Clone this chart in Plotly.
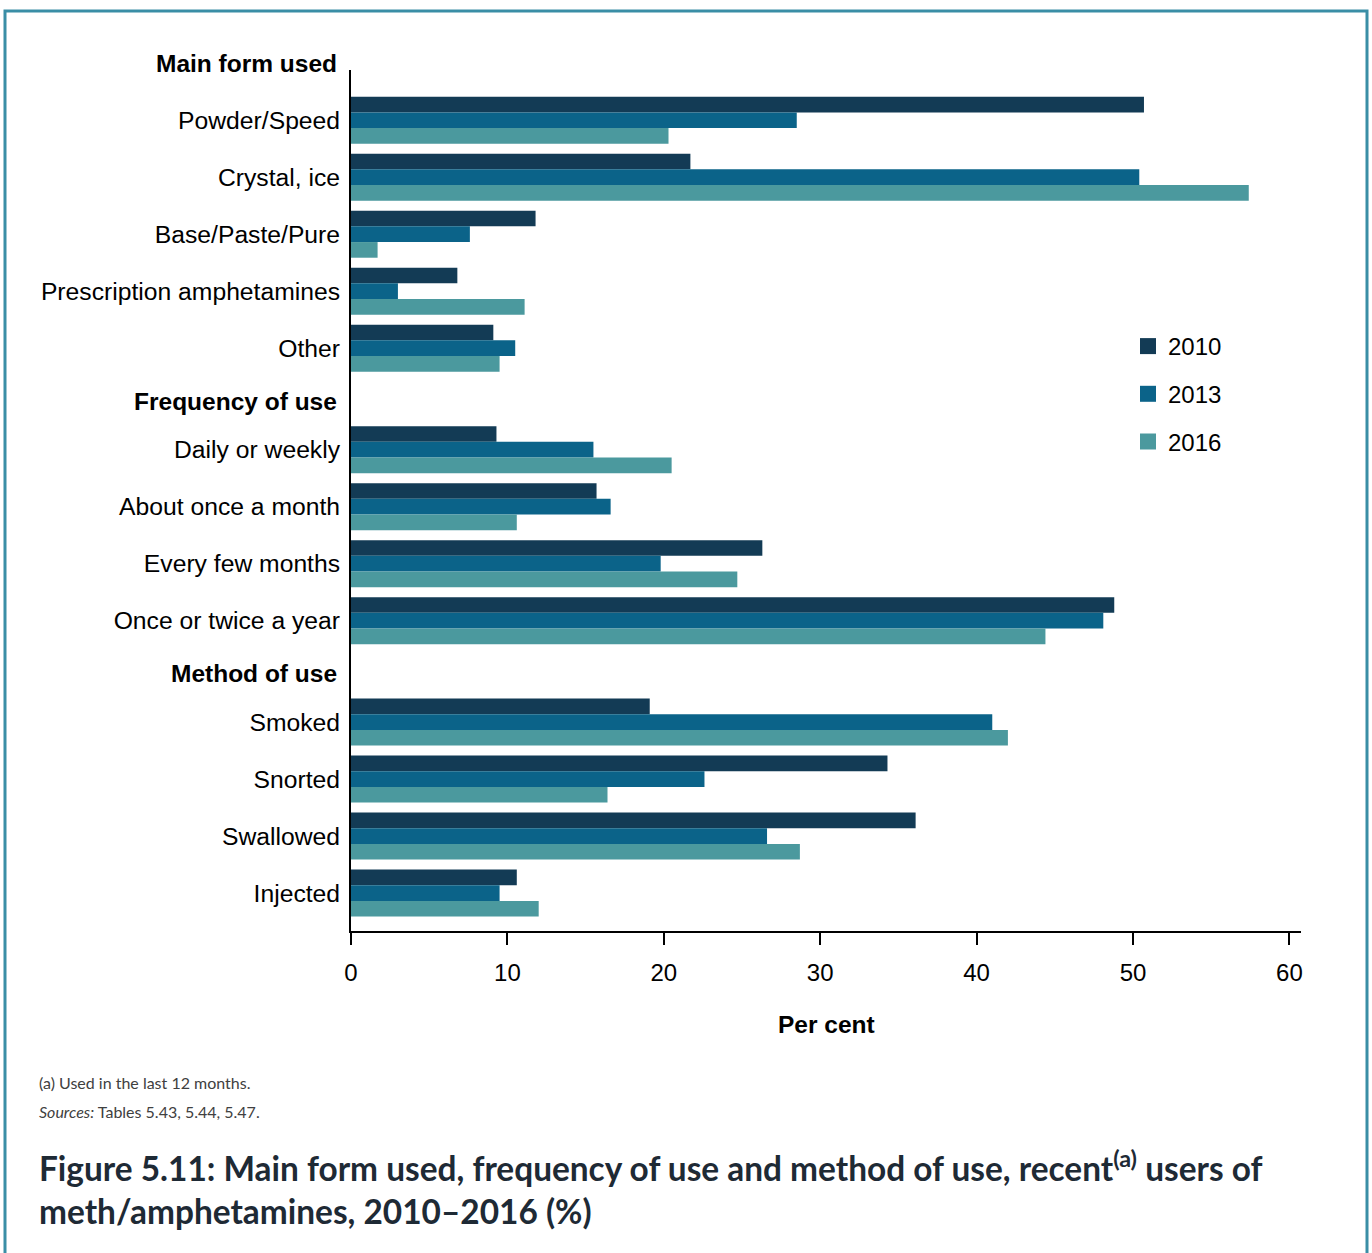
import plotly.graph_objects as go

# ---- data ----
categories = [
    "Powder/Speed", "Crystal, ice", "Base/Paste/Pure", "Prescription amphetamines", "Other",
    "Daily or weekly", "About once a month", "Every few months", "Once or twice a year",
    "Smoked", "Snorted", "Swallowed", "Injected",
]
group_headers = ["Main form used", "Frequency of use", "Method of use"]
group_sizes = [5, 4, 4]
years = ["2010", "2013", "2016"]
v2010 = [50.7, 21.7, 11.8, 6.8, 9.1, 9.3, 15.7, 26.3, 48.8, 19.1, 34.3, 36.1, 10.6]
v2013 = [28.5, 50.4, 7.6, 3.0, 10.5, 15.5, 16.6, 19.8, 48.1, 41.0, 22.6, 26.6, 9.5]
v2016 = [20.3, 57.4, 1.7, 11.1, 9.5, 20.5, 10.6, 24.7, 44.4, 42.0, 16.4, 28.7, 12.0]
x_ticks = [0, 10, 20, 30, 40, 50, 60]

colors = ["#133b55", "#0b6389", "#4b999e"]
values = [v2010, v2013, v2016]

# ---- layout geometry (body margin removed via post_script) ----
W, H = 1372, 1253
L, R, T, B = 351, 1301, 70, 931
GROUP_GAP = 0.78

pos = []
header_pos = []
i = 0
for g, n in enumerate(group_sizes):
    start = i + GROUP_GAP * g
    header_pos.append(start - (1.0 if g == 0 else 0.85))
    for k in range(n):
        pos.append(i + GROUP_GAP * g)
        i += 1

y_lo, y_hi = 14.225, -0.881  # reversed axis


def yfrac(u):
    return (y_lo - u) / (y_lo - y_hi)


def px_x(px):
    return (px - L) / (R - L)


def px_y(py):
    return (B - py) / (B - T)


LABEL_FONT = "Liberation Sans, Arial"

fig = go.Figure()
for yr, vals, c in zip(years, values, colors):
    fig.add_trace(go.Bar(
        x=vals, y=pos, orientation="h", name=yr, marker=dict(color=c, line=dict(width=0)),
        showlegend=False,
    ))
for g, (yr, c) in enumerate(zip(years, colors)):
    fig.add_trace(go.Scatter(
        x=[None], y=[None], mode="markers", name=yr, legendgroup=yr,
        marker=dict(symbol="square", size=16, color=c),
    ))

annotations = []
for h, u in zip(group_headers, header_pos):
    annotations.append(dict(
        text="<b>%s</b>" % h, xref="paper", yref="paper", x=0, y=yfrac(u),
        xanchor="right", yanchor="middle", xshift=-12, showarrow=False,
        font=dict(family=LABEL_FONT, size=24.5, color="#000000"),
    ))
annotations.append(dict(
    text="<b>Per cent</b>", xref="paper", yref="paper", x=0.5, y=px_y(1024),
    xanchor="center", yanchor="middle", showarrow=False,
    font=dict(family=LABEL_FONT, size=24.5, color="#000000"),
))
annotations.append(dict(
    text="(a) Used in the last 12 months.", xref="paper", yref="paper", x=px_x(37), y=px_y(1082),
    xanchor="left", yanchor="middle", showarrow=False,
    font=dict(family="Lato", size=16, color="#404040"),
))
annotations.append(dict(
    text="<i>Sources:</i> Tables 5.43, 5.44, 5.47.", xref="paper", yref="paper", x=px_x(37), y=px_y(1111),
    xanchor="left", yanchor="middle", showarrow=False,
    font=dict(family="Lato", size=16, color="#404040"),
))
annotations.append(dict(
    text="<b>Figure 5.11: Main form used, frequency of use and method of use, recent<sup>(a)</sup> users of</b>",
    xref="paper", yref="paper", x=px_x(37), y=px_y(1166),
    xanchor="left", yanchor="middle", showarrow=False,
    font=dict(family="Lato", size=33.4, color="#1e2a35"),
))
annotations.append(dict(
    text="<b>meth/amphetamines, 2010–2016 (%)</b>",
    xref="paper", yref="paper", x=px_x(37), y=px_y(1211),
    xanchor="left", yanchor="middle", showarrow=False,
    font=dict(family="Lato", size=33.4, color="#1e2a35"),
))

shapes = [dict(
    type="rect", xref="paper", yref="paper",
    x0=px_x(5), x1=px_x(1367), y0=px_y(1275), y1=px_y(11),
    line=dict(color="#3a8ea6", width=3), fillcolor="rgba(0,0,0,0)", layer="below",
)]

fig.update_layout(
    width=W, height=H,
    margin=dict(l=L, r=W - R, t=T, b=H - B, pad=0),
    paper_bgcolor="white", plot_bgcolor="white",
    barmode="group", bargap=0.175, bargroupgap=0,
    font=dict(family=LABEL_FONT, size=24, color="#000000"),
    showlegend=True,
    legend=dict(
        x=px_x(1128), y=px_y(324), xanchor="left", yanchor="top",
        font=dict(size=24, family=LABEL_FONT, color="#000000"),
        tracegroupgap=13.5, bgcolor="rgba(0,0,0,0)",
    ),
    annotations=annotations,
    shapes=shapes,
)
fig.update_xaxes(
    range=[0, 60.74], tickvals=x_ticks, ticktext=[str(t) for t in x_ticks],
    showline=True, linecolor="#000000", linewidth=2,
    ticks="outside", ticklen=12, tickwidth=2, tickcolor="#000000",
    ticklabelstandoff=7, showgrid=False, zeroline=False,
    tickfont=dict(size=24, family=LABEL_FONT, color="#000000"),
)
fig.update_yaxes(
    range=[y_lo, y_hi], tickvals=pos, ticktext=categories,
    showline=True, linecolor="#000000", linewidth=2,
    ticks="", showgrid=False, zeroline=False, ticklabelstandoff=4,
    tickfont=dict(size=24.7, family=LABEL_FONT, color="#000000"),
)

fig.write_html(
    "out.html",
    config={"displayModeBar": False},
    post_script="document.body.style.margin='0';document.body.style.overflow='hidden';",
)
